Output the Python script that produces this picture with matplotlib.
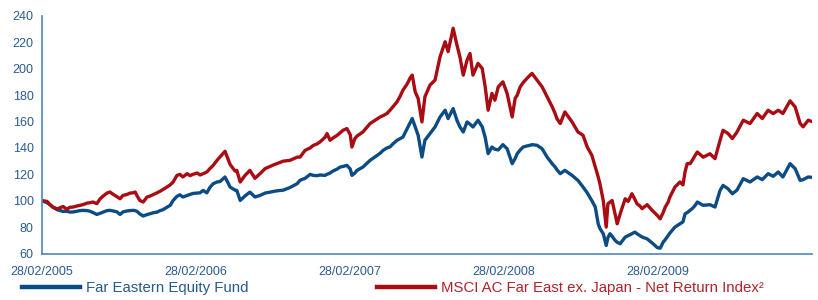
"""Far Eastern Equity Fund vs MSCI AC Far East ex. Japan, rebased to 100."""
import matplotlib
matplotlib.use("Agg")
import matplotlib.pyplot as plt
import matplotlib.dates as mdates
import pandas as pd

plt.rcParams["font.family"] = ["Liberation Sans", "DejaVu Sans"]

# values, rebased to 100 on 28/02/2005
dates = [
    "2005-02-28", "2005-03-12", "2005-03-19", "2005-03-26", "2005-04-05", "2005-04-19",
    "2005-04-28", "2005-05-05", "2005-05-13", "2005-05-22", "2005-05-29", "2005-06-05",
    "2005-06-15", "2005-06-22", "2005-06-29", "2005-07-08", "2005-07-16", "2005-07-23",
    "2005-08-01", "2005-08-08", "2005-08-15", "2005-08-25", "2005-09-01", "2005-09-08",
    "2005-09-18", "2005-09-25", "2005-10-02", "2005-10-07", "2005-10-11", "2005-10-18",
    "2005-10-26", "2005-11-04", "2005-11-11", "2005-11-18", "2005-11-28", "2005-12-05",
    "2005-12-12", "2005-12-21", "2005-12-29", "2006-01-05", "2006-01-14", "2006-01-21",
    "2006-01-28", "2006-02-07", "2006-02-14", "2006-02-21", "2006-03-03", "2006-03-10",
    "2006-03-17", "2006-03-26", "2006-04-02", "2006-04-10", "2006-04-19", "2006-04-26",
    "2006-05-08", "2006-05-20", "2006-06-01", "2006-06-05", "2006-06-13", "2006-06-24",
    "2006-07-06", "2006-07-18", "2006-07-30", "2006-08-11", "2006-08-23", "2006-08-30",
    "2006-09-08", "2006-09-23", "2006-10-09", "2006-10-26", "2006-11-02", "2006-11-14",
    "2006-11-26", "2006-12-03", "2006-12-12", "2006-12-19", "2006-12-31", "2007-01-05",
    "2007-01-12", "2007-01-19", "2007-01-29", "2007-02-05", "2007-02-12", "2007-02-21",
    "2007-03-01", "2007-03-05", "2007-03-12", "2007-03-17", "2007-03-31", "2007-04-17",
    "2007-05-04", "2007-05-11", "2007-05-18", "2007-05-27", "2007-06-03", "2007-06-10",
    "2007-06-20", "2007-06-27", "2007-07-04", "2007-07-14", "2007-07-21", "2007-07-26",
    "2007-08-02", "2007-08-09", "2007-08-18", "2007-08-25", "2007-09-06", "2007-09-18",
    "2007-09-30", "2007-10-12", "2007-10-19", "2007-10-31", "2007-11-09", "2007-11-16",
    "2007-11-24", "2007-12-03", "2007-12-10", "2007-12-17", "2007-12-29", "2008-01-08",
    "2008-01-15", "2008-01-22", "2008-01-31", "2008-02-07", "2008-02-15", "2008-02-26",
    "2008-03-07", "2008-03-19", "2008-03-26", "2008-03-31", "2008-04-07", "2008-04-14",
    "2008-04-23", "2008-04-30", "2008-05-05", "2008-05-17", "2008-05-29", "2008-06-10",
    "2008-06-22", "2008-06-29", "2008-07-03", "2008-07-11", "2008-07-22", "2008-08-08",
    "2008-08-22", "2008-09-03", "2008-09-13", "2008-09-24", "2008-10-02", "2008-10-09",
    "2008-10-13", "2008-10-21", "2008-10-28", "2008-11-01", "2008-11-06", "2008-11-11",
    "2008-11-18", "2008-11-23", "2008-11-30", "2008-12-12", "2008-12-19", "2008-12-28",
    "2009-01-04", "2009-01-09", "2009-01-16", "2009-01-21", "2009-02-02", "2009-02-14",
    "2009-02-26", "2009-03-05", "2009-03-12", "2009-03-17", "2009-03-24", "2009-03-28",
    "2009-04-09", "2009-04-21", "2009-04-28", "2009-05-03", "2009-05-08", "2009-05-15",
    "2009-05-20", "2009-05-27", "2009-06-01", "2009-06-15", "2009-07-01", "2009-07-13",
    "2009-07-25", "2009-08-01", "2009-08-13", "2009-08-23", "2009-09-03", "2009-09-18",
    "2009-10-04", "2009-10-21", "2009-11-02", "2009-11-16", "2009-11-28", "2009-12-10",
    "2009-12-21", "2010-01-07", "2010-01-19", "2010-01-31", "2010-02-07", "2010-02-19",
    "2010-02-28",
]

fund = [
    100, 98.5, 97, 95, 93.2, 91.9, 92, 91.4, 91.5, 92.1, 92.5, 92.7,
    92.5, 92, 91, 89.6, 90.5, 91.4, 92.5, 92.7, 92.3, 91.5, 89.6, 91.5,
    92.3, 92.5, 92.7, 92.5, 92, 90, 88.4, 89.5, 90.1, 90.8, 91.4, 92.5,
    93.2, 95, 96.5, 100.2, 103.3, 104.5, 102.8, 104, 104.8, 105.5, 105.8, 106,
    107.8, 106, 110, 112.9, 114.2, 114.5, 118, 110.4, 108, 107.8, 100.2, 103.5,
    106.5, 102.8, 104, 105.8, 106.5, 107, 107.5, 108, 110, 112.9, 115.5, 117,
    120, 119.2, 119, 119.5, 119.2, 120, 121, 122.5, 124, 125.5, 126, 126.8,
    124, 119.2, 121, 123, 125.5, 130.6, 134.4, 136, 138.2, 140, 140.7, 143,
    145.8, 147, 148.3, 154.7, 159, 162.3, 155.9, 149.6, 133.1, 145.8, 150.9, 155.9,
    163.5, 168.6, 162.3, 169.8, 161, 156, 152.1, 159.7, 158, 155.9, 161, 156,
    148, 135.7, 140.7, 139, 138.5, 142.5, 139.4, 128.1, 132, 135.7, 138.5, 140.7,
    141.5, 142, 142.5, 142, 139.4, 133, 128, 125.5, 123.5, 120.5, 123, 119.2,
    115.4, 110.4, 106, 100, 95.2, 82.5, 79, 75, 66.1, 72, 75, 73,
    70, 68.5, 67.4, 72.4, 73.5, 75, 76.2, 75, 73.5, 72.5, 71.1, 68,
    64.5, 64, 68.6, 70.5, 73.7, 75.5, 80, 82.5, 84, 90.1, 91, 92.7,
    94, 96.5, 99, 96.5, 97, 95.2, 107.8, 111.6, 109, 105.3, 108, 116.7,
    114.2, 118, 116, 120.5, 118.5, 121.8, 118, 128.1, 124.3, 115.4, 116, 118,
    117.7,
]

index = [
    100, 99.5, 97, 95.2, 93.8, 95.6, 93.5, 95, 95.2, 96, 96.5, 97,
    98.2, 98.5, 99, 97.8, 101.5, 103.5, 105.8, 106.6, 105, 103, 101.5, 104,
    104.8, 105.8, 106, 106.6, 104, 100.2, 99, 102.8, 103.5, 104.5, 106, 107.2,
    108.5, 110.4, 112, 114.2, 119.2, 120, 118, 120.5, 119, 120, 121, 119.5,
    120.5, 121.8, 124.3, 126.8, 130.6, 133.1, 137.5, 127.5, 122.5, 123, 114.2, 119,
    123, 117, 120.5, 124.3, 126, 127, 128.1, 130, 130.6, 133, 133.1, 138.2,
    140, 141.9, 143, 144.5, 148, 150.9, 145.8, 147.5, 149.6, 151.5, 153.4, 154.7,
    150, 140.7, 147.1, 149, 152.1, 158.5, 162, 163.5, 164.5, 166.1, 168.5, 171.1,
    175, 179, 183.8, 188.5, 193, 195.2, 182.5, 177.5, 159.7, 178.7, 187.6, 191.4,
    209.1, 220.5, 213, 230.7, 218, 209.1, 195.2, 206.6, 211.6, 195.2, 204.1, 200.2,
    186.3, 168.6, 181.3, 176.2, 186.3, 190.1, 181.3, 163.5, 177.5, 180, 186.3, 189.5,
    192.7, 195, 196.5, 191.4, 186.3, 178.7, 171.1, 166, 162.3, 158.5, 167.3, 159.7,
    152.1, 149.6, 140.7, 134.4, 125.5, 118, 112.9, 100.2, 80, 97.7, 99, 100.2,
    90.1, 82.5, 90, 101.5, 99.5, 105.3, 101, 97.7, 96, 94, 97, 92.7,
    88.9, 86.3, 91, 95.2, 99, 102.8, 110.4, 114.2, 112, 122, 128.1, 128.1,
    130.6, 134.4, 136.9, 133, 135.6, 131.9, 145.8, 153.4, 150.9, 147.1, 152, 161,
    158.5, 166.1, 162.3, 168.6, 166, 168.6, 166.1, 175.7, 171.1, 158.5, 156, 161,
    160,
]

tick_dates = ["2005-02-28", "2006-02-28", "2007-02-28", "2008-02-28", "2009-02-28"]
y_ticks = [60, 80, 100, 120, 140, 160, 180, 200, 220, 240]

FUND_NAME = "Far Eastern Equity Fund"
INDEX_NAME = "MSCI AC Far East ex. Japan - Net Return Index²"

BLUE = "#0c4c84"
RED = "#a90c12"
AXIS = "#4f86bd"
LABEL = "#2a5b90"


def main() -> None:
    d = pd.to_datetime(dates)
    fig = plt.figure(figsize=(8.18, 3.0), dpi=100)
    ax = fig.add_axes([42 / 818, 1 - 253.5 / 300, 770 / 818, 237.5 / 300])

    ax.plot(d, fund, color=BLUE, lw=2.4, label=FUND_NAME, solid_joinstyle="round")
    ax.plot(d, index, color=RED, lw=2.4, label=INDEX_NAME, solid_joinstyle="round")

    ax.set_xlim(pd.Timestamp("2005-02-28"), pd.Timestamp("2010-02-28"))
    ax.set_ylim(60, 240)
    ax.set_yticks(y_ticks)
    ax.set_xticks(pd.to_datetime(tick_dates))
    ax.xaxis.set_major_formatter(mdates.DateFormatter("%d/%m/%Y"))

    for side in ("top", "right"):
        ax.spines[side].set_visible(False)
    for side in ("left", "bottom"):
        ax.spines[side].set_color(AXIS)
        ax.spines[side].set_linewidth(1.2)
    ax.tick_params(axis="y", length=0, pad=6, labelsize=9, labelcolor=LABEL)
    ax.tick_params(axis="x", length=0, pad=9, labelsize=9, labelcolor=LABEL)

    leg = ax.legend(loc="center left", bbox_to_anchor=(22 / 818, 12 / 300),
                    bbox_transform=fig.transFigure, ncol=2, frameon=False,
                    fontsize=10.8, handlelength=3.85, handletextpad=0.4,
                    columnspacing=8.6, borderpad=0, borderaxespad=0)
    for line in leg.get_lines():
        line.set_linewidth(3.2)
    for text, col in zip(leg.get_texts(), ["#275a8c", "#b2232b"]):
        text.set_color(col)

    fig.savefig("out.png", dpi=100)


if __name__ == "__main__":
    main()
